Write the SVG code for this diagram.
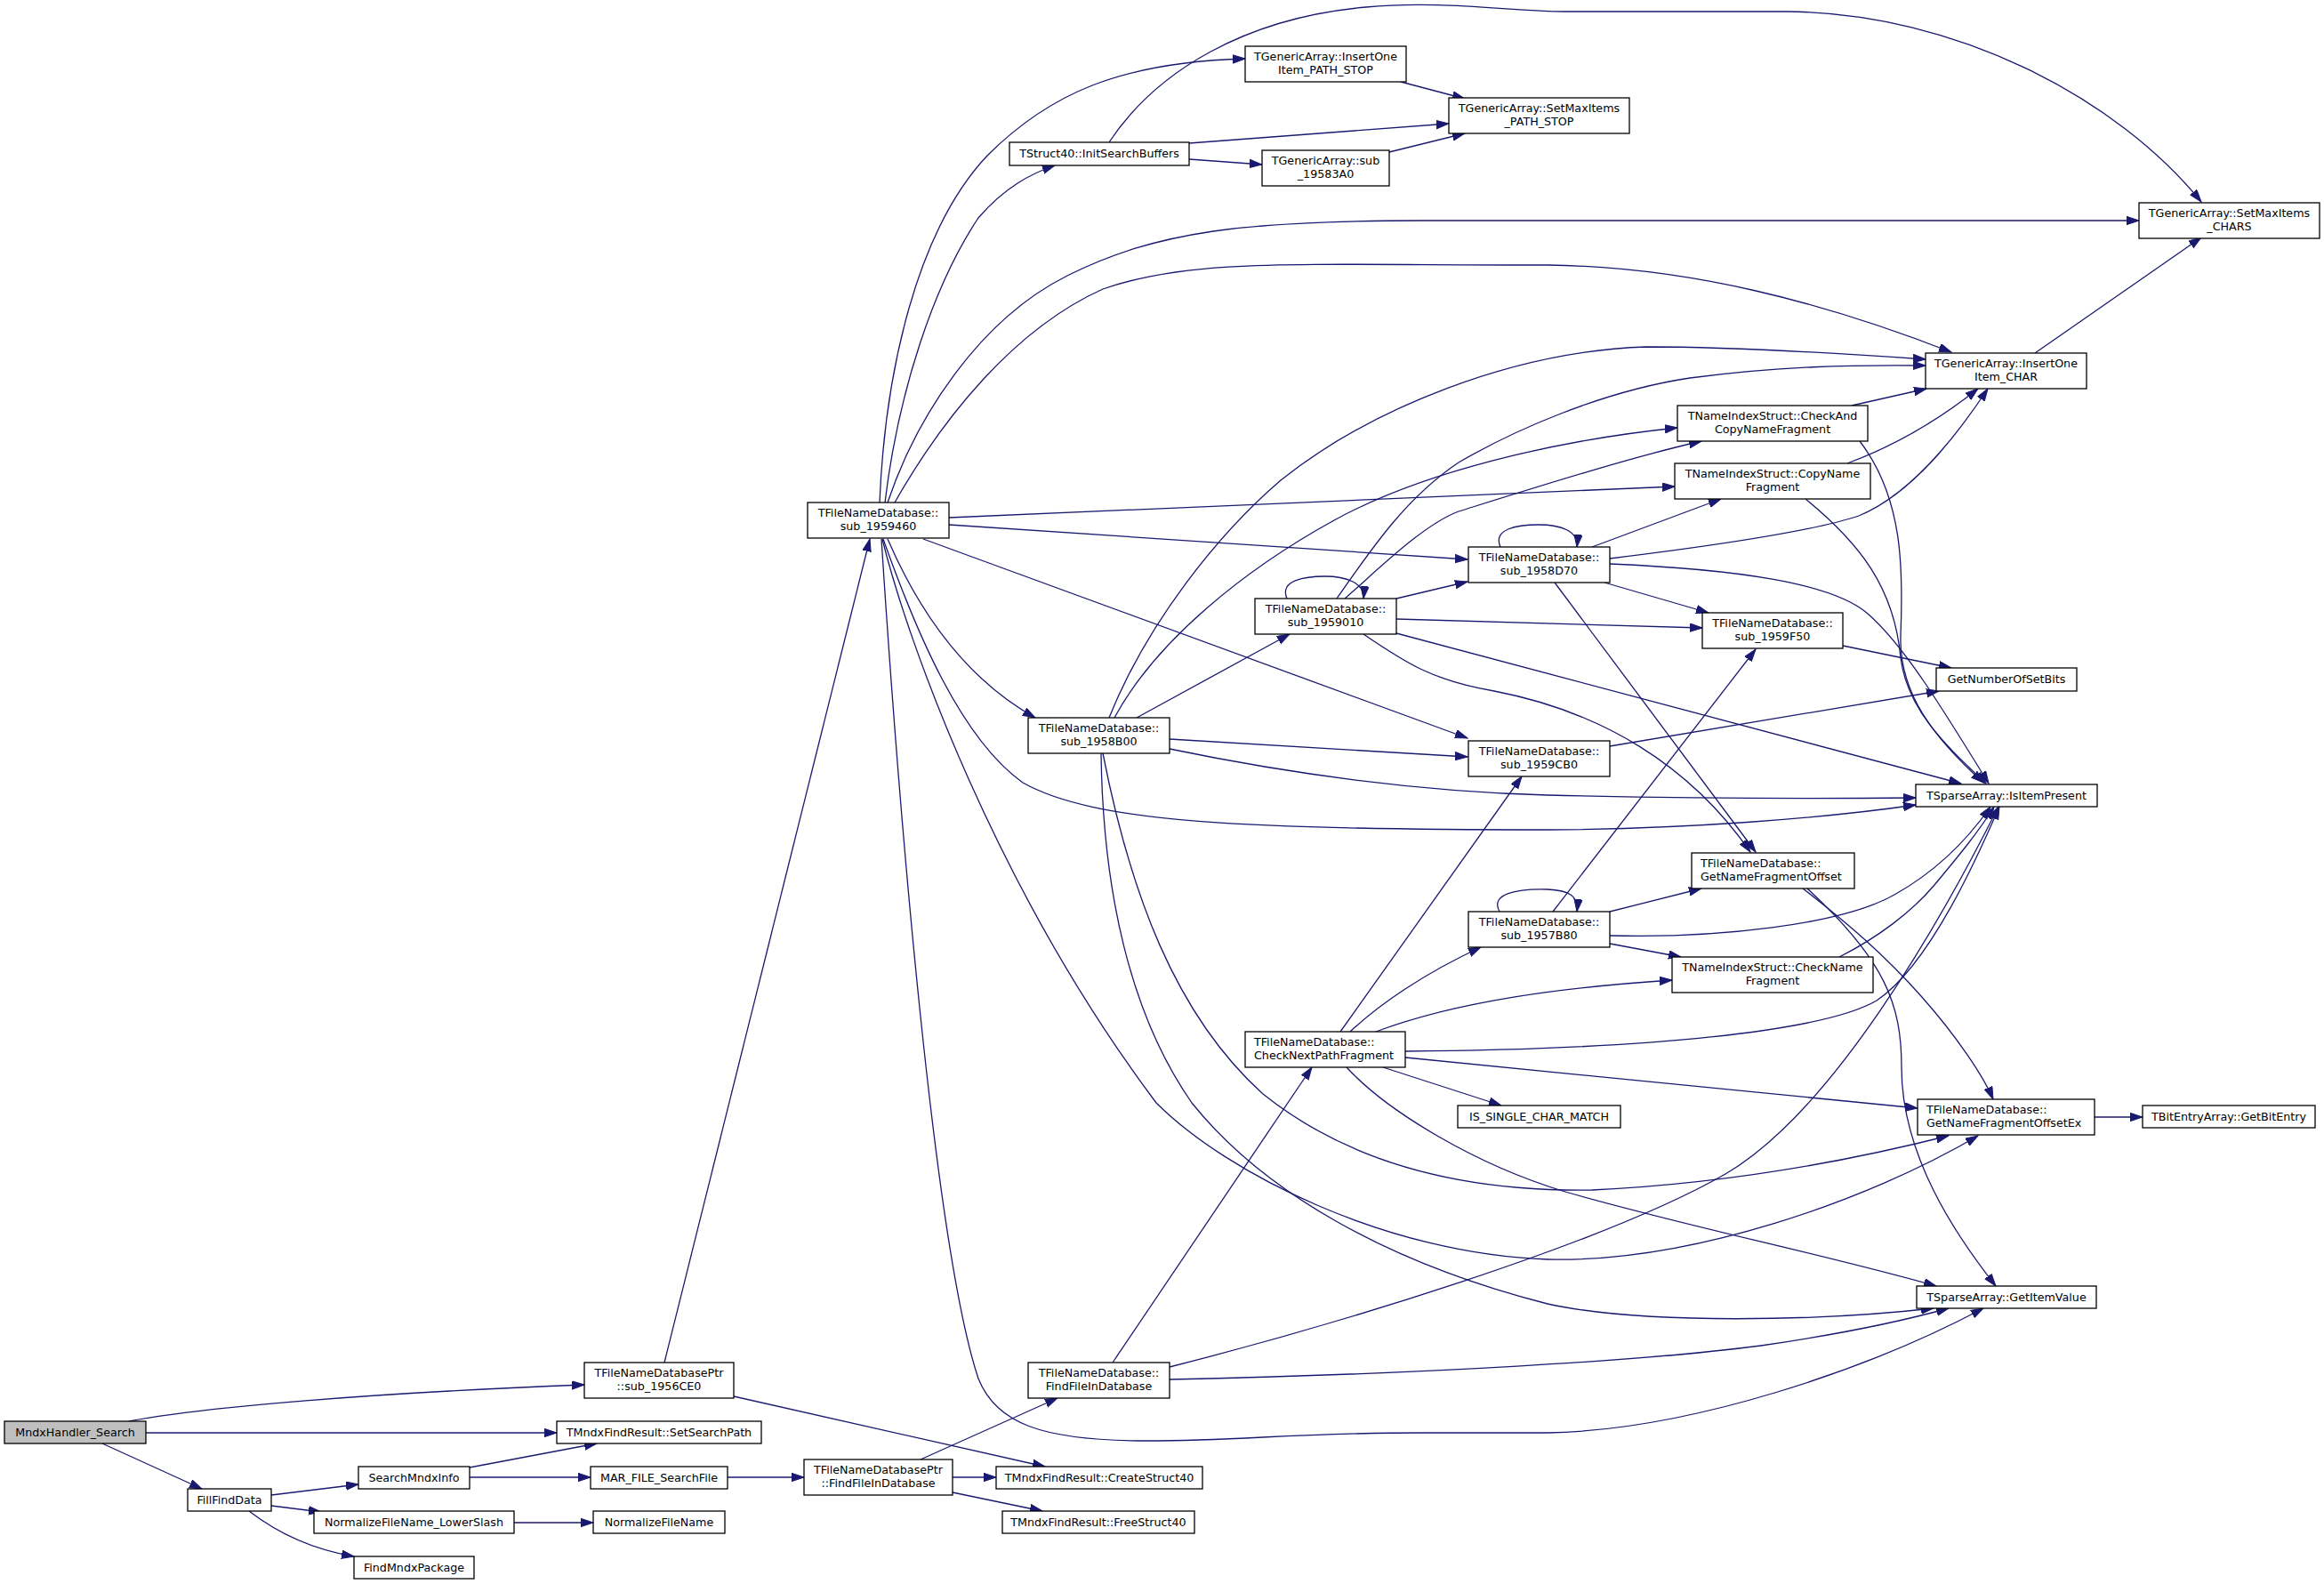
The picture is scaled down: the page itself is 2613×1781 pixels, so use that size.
<svg xmlns="http://www.w3.org/2000/svg" width="2613" height="1781" viewBox="0 0 2613 1781">
<style>
.n rect{fill:#fff;stroke:#000;stroke-width:1.3}
.n.root rect{fill:#bfbfbf}
.n text{font-family:"DejaVu Sans","Liberation Sans",sans-serif;font-size:12.7px;fill:#000;text-anchor:middle}
.n text.l{text-anchor:start}
.e path{fill:none;stroke:#191970;stroke-width:1.3;marker-end:url(#a)}
</style>
<defs>
<marker id="a" markerUnits="userSpaceOnUse" markerWidth="15" markerHeight="11" refX="14" refY="5" orient="auto">
<path d="M0,0.3L14,5L0,9.7z" fill="#191970" stroke="#191970" stroke-width="1"/>
</marker>
</defs>
<rect width="2613" height="1781" fill="#fff"/>
<g id="edges" class="e">
<path d="M145,1598 C230,1582 420,1566 657,1557"/>
<path d="M164,1611 L626,1611"/>
<path d="M115,1623 L227,1674"/>
<path d="M305,1681 L403,1669"/>
<path d="M305,1693 L361,1700"/>
<path d="M280,1699 C310,1722 350,1742 398,1750"/>
<path d="M528,1650 L671,1623"/>
<path d="M528,1661 L664,1661"/>
<path d="M578,1712 L667,1712"/>
<path d="M818,1661 L904,1661"/>
<path d="M747,1532 L978,606"/>
<path d="M825,1570 L1175,1649"/>
<path d="M1071,1661 L1120,1661"/>
<path d="M1071,1678 L1172,1699"/>
<path d="M1035,1641 L1189,1572"/>
<path d="M1251,1532 L1475,1200"/>
<path d="M1315,1537 C1500,1490 1800,1400 1940,1320 C2060,1250 2180,1040 2247,907"/>
<path d="M1315,1551 C1600,1545 1850,1530 1980,1513 C2070,1500 2140,1485 2191,1471"/>
<path d="M1507,1160 L1711,873"/>
<path d="M1518,1160 C1550,1130 1600,1095 1665,1065"/>
<path d="M1547,1160 C1640,1125 1760,1110 1880,1102"/>
<path d="M1580,1182 C1850,1180 2050,1160 2110,1125 C2170,1085 2225,960 2248,907"/>
<path d="M1580,1189 L2156,1246"/>
<path d="M1555,1200 L1688,1243"/>
<path d="M1514,1200 C1560,1250 1660,1310 1760,1340 C1900,1380 2050,1410 2177,1446"/>
<path d="M1686,1025 C1675,1005 1705,999 1740,1000 C1765,1001 1775,1008 1773,1025"/>
<path d="M1746,1025 L1974,730"/>
<path d="M1810,1025 L1913,999"/>
<path d="M1810,1052 C1930,1055 2070,1040 2130,1006 C2180,978 2215,940 2238,907"/>
<path d="M1810,1061 L1890,1076"/>
<path d="M2068,1076 C2110,1055 2150,1025 2175,995 C2200,965 2225,935 2242,907"/>
<path d="M2027,999 C2080,1040 2120,1075 2160,1120 C2200,1165 2230,1210 2241,1236"/>
<path d="M2032,999 C2120,1080 2138,1130 2138,1200 C2138,1300 2200,1390 2244,1446"/>
<path d="M2355,1256 L2409,1256"/>
<path d="M1810,839 L2180,777"/>
<path d="M2072,726 L2194,751"/>
<path d="M1687,615 C1678,595 1705,590 1730,590 C1755,590 1775,597 1773,615"/>
<path d="M1790,615 L1935,561"/>
<path d="M1810,628 C1900,617 2030,600 2090,580 C2150,555 2200,490 2235,437"/>
<path d="M1804,655 L1921,689"/>
<path d="M1810,634 C1950,640 2060,655 2100,690 C2140,725 2180,790 2236,881"/>
<path d="M1748,655 L1974,958"/>
<path d="M1447,673 C1438,652 1468,648 1490,648 C1512,648 1535,655 1533,673"/>
<path d="M1570,673 L1650,654"/>
<path d="M1570,696 L1914,706"/>
<path d="M1570,712 L2205,881"/>
<path d="M1533,713 C1580,745 1610,765 1680,777 C1800,800 1900,860 1968,958"/>
<path d="M1503,673 C1540,620 1580,560 1640,520 C1700,485 1800,440 1900,425 C2000,412 2080,410 2165,411"/>
<path d="M1512,673 C1550,640 1600,590 1640,575 C1720,550 1830,515 1913,496"/>
<path d="M1278,807 L1450,713"/>
<path d="M1315,831 L1650,851"/>
<path d="M1315,842 C1450,870 1600,890 1740,894 C1900,898 2050,898 2154,897"/>
<path d="M1247,807 C1290,700 1370,600 1440,540 C1540,460 1700,395 1851,390 C1950,390 2080,398 2165,404"/>
<path d="M1253,807 C1300,720 1400,640 1500,585 C1600,530 1750,495 1886,481"/>
<path d="M1240,847 C1270,1000 1320,1140 1420,1230 C1520,1310 1650,1340 1790,1338 C1960,1330 2100,1300 2191,1277"/>
<path d="M1238,847 C1240,1000 1270,1140 1340,1240 C1420,1340 1560,1420 1740,1466 C1850,1490 2050,1485 2174,1471"/>
<path d="M2082,456 L2166,437"/>
<path d="M2091,496 C2140,560 2140,640 2137,715 C2135,780 2175,830 2230,880"/>
<path d="M2077,521 C2120,505 2170,480 2224,437"/>
<path d="M2030,561 C2090,610 2130,660 2137,740 C2145,800 2190,840 2233,881"/>
<path d="M2288,397 L2475,267"/>
<path d="M989,565 C995,420 1030,260 1110,175 C1180,105 1260,70 1400,66"/>
<path d="M995,565 C1010,440 1050,320 1100,245 C1130,210 1160,195 1186,186"/>
<path d="M998,565 C1030,470 1100,360 1200,310 C1300,260 1400,248 1600,248 L2405,248"/>
<path d="M1006,565 C1060,470 1140,370 1240,325 C1340,290 1450,298 1740,298 C1900,300 2050,340 2194,396"/>
<path d="M1067,582 L1883,547"/>
<path d="M1067,590 L1650,629"/>
<path d="M998,606 C1030,680 1080,760 1164,807"/>
<path d="M1038,606 L1650,830"/>
<path d="M993,606 C1030,710 1080,830 1150,880 C1230,925 1400,933 1740,933 C1900,932 2050,920 2154,905"/>
<path d="M992,606 C1020,720 1120,1000 1300,1240 C1380,1320 1560,1410 1740,1416 C1900,1420 2100,1350 2224,1277"/>
<path d="M991,606 C1010,900 1050,1400 1100,1550 C1120,1600 1170,1620 1290,1620 C1400,1620 1450,1611 1600,1611 L1740,1611 C1900,1608 2100,1540 2230,1471"/>
<path d="M1247,160 C1300,80 1400,20 1536,8 C1620,0 1700,13 1760,13 L2010,13 C2200,15 2380,110 2475,227"/>
<path d="M1337,161 L1629,139"/>
<path d="M1337,179 L1419,185"/>
<path d="M1575,92 L1647,111"/>
<path d="M1562,171 L1647,150"/>
</g>
<g id="n0" class="n root"><rect x="5" y="1598" width="159" height="25"/><text x="84.5" y="1614.8">MndxHandler_Search</text></g>
<g id="n1" class="n"><rect x="657" y="1532" width="168" height="40"/><text x="741" y="1548">TFileNameDatabasePtr</text><text x="741" y="1563">::sub_1956CE0</text></g>
<g id="n2" class="n"><rect x="626" y="1598" width="230" height="25"/><text x="741" y="1614.8">TMndxFindResult::SetSearchPath</text></g>
<g id="n3" class="n"><rect x="211" y="1674" width="94" height="25"/><text x="258" y="1690.8">FillFindData</text></g>
<g id="n4" class="n"><rect x="403" y="1649" width="125" height="25"/><text x="465.5" y="1665.8">SearchMndxInfo</text></g>
<g id="n5" class="n"><rect x="353" y="1699" width="225" height="25"/><text x="465.5" y="1715.8">NormalizeFileName_LowerSlash</text></g>
<g id="n6" class="n"><rect x="398" y="1750" width="135" height="25"/><text x="465.5" y="1766.8">FindMndxPackage</text></g>
<g id="n7" class="n"><rect x="664" y="1649" width="154" height="25"/><text x="741" y="1665.8">MAR_FILE_SearchFile</text></g>
<g id="n8" class="n"><rect x="667" y="1699" width="148" height="25"/><text x="741" y="1715.8">NormalizeFileName</text></g>
<g id="n9" class="n"><rect x="904" y="1641" width="167" height="40"/><text x="987.5" y="1657">TFileNameDatabasePtr</text><text x="987.5" y="1672">::FindFileInDatabase</text></g>
<g id="n10" class="n"><rect x="1120" y="1649" width="232" height="25"/><text x="1236" y="1665.8">TMndxFindResult::CreateStruct40</text></g>
<g id="n11" class="n"><rect x="1127" y="1699" width="216" height="25"/><text x="1235" y="1715.8">TMndxFindResult::FreeStruct40</text></g>
<g id="n12" class="n"><rect x="1156" y="1532" width="159" height="40"/><text x="1235.5" y="1548">TFileNameDatabase::</text><text x="1235.5" y="1563">FindFileInDatabase</text></g>
<g id="n13" class="n"><rect x="1400" y="1160" width="180" height="40"/><text class="l" x="1410" y="1176">TFileNameDatabase::</text><text class="l" x="1410" y="1191">CheckNextPathFragment</text></g>
<g id="n14" class="n"><rect x="1639" y="1243" width="183" height="25"/><text x="1730.5" y="1259.8">IS_SINGLE_CHAR_MATCH</text></g>
<g id="n15" class="n"><rect x="1651" y="1025" width="159" height="40"/><text x="1730.5" y="1041">TFileNameDatabase::</text><text x="1730.5" y="1056">sub_1957B80</text></g>
<g id="n16" class="n"><rect x="1880" y="1076" width="226" height="40"/><text x="1993" y="1092">TNameIndexStruct::CheckName</text><text x="1993" y="1107">Fragment</text></g>
<g id="n17" class="n"><rect x="1902" y="959" width="183" height="40"/><text class="l" x="1912" y="975">TFileNameDatabase::</text><text class="l" x="1912" y="990">GetNameFragmentOffset</text></g>
<g id="n18" class="n"><rect x="2156" y="1236" width="199" height="40"/><text class="l" x="2166" y="1252">TFileNameDatabase::</text><text class="l" x="2166" y="1267">GetNameFragmentOffsetEx</text></g>
<g id="n19" class="n"><rect x="2409" y="1243" width="194" height="25"/><text x="2506" y="1259.8">TBitEntryArray::GetBitEntry</text></g>
<g id="n20" class="n"><rect x="2155" y="1446" width="202" height="25"/><text x="2256" y="1462.8">TSparseArray::GetItemValue</text></g>
<g id="n21" class="n"><rect x="2154" y="882" width="204" height="25"/><text x="2256" y="898.8">TSparseArray::IsItemPresent</text></g>
<g id="n22" class="n"><rect x="2177" y="751" width="158" height="26"/><text x="2256" y="768.3">GetNumberOfSetBits</text></g>
<g id="n23" class="n"><rect x="1914" y="689" width="158" height="40"/><text x="1993" y="705">TFileNameDatabase::</text><text x="1993" y="720">sub_1959F50</text></g>
<g id="n24" class="n"><rect x="1651" y="833" width="159" height="40"/><text x="1730.5" y="849">TFileNameDatabase::</text><text x="1730.5" y="864">sub_1959CB0</text></g>
<g id="n25" class="n"><rect x="1651" y="615" width="159" height="40"/><text x="1730.5" y="631">TFileNameDatabase::</text><text x="1730.5" y="646">sub_1958D70</text></g>
<g id="n26" class="n"><rect x="1411" y="673" width="159" height="40"/><text x="1490.5" y="689">TFileNameDatabase::</text><text x="1490.5" y="704">sub_1959010</text></g>
<g id="n27" class="n"><rect x="1156" y="807" width="159" height="40"/><text x="1235.5" y="823">TFileNameDatabase::</text><text x="1235.5" y="838">sub_1958B00</text></g>
<g id="n28" class="n"><rect x="908" y="565" width="159" height="40"/><text x="987.5" y="581">TFileNameDatabase::</text><text x="987.5" y="596">sub_1959460</text></g>
<g id="n29" class="n"><rect x="1886" y="456" width="214" height="40"/><text x="1993" y="472">TNameIndexStruct::CheckAnd</text><text x="1993" y="487">CopyNameFragment</text></g>
<g id="n30" class="n"><rect x="1883" y="521" width="220" height="40"/><text x="1993" y="537">TNameIndexStruct::CopyName</text><text x="1993" y="552">Fragment</text></g>
<g id="n31" class="n"><rect x="2165" y="397" width="181" height="40"/><text x="2255.5" y="413">TGenericArray::InsertOne</text><text x="2255.5" y="428">Item_CHAR</text></g>
<g id="n32" class="n"><rect x="2405" y="228" width="203" height="40"/><text x="2506.5" y="244">TGenericArray::SetMaxItems</text><text x="2506.5" y="259">_CHARS</text></g>
<g id="n33" class="n"><rect x="1135" y="160" width="202" height="26"/><text x="1236" y="177.3">TStruct40::InitSearchBuffers</text></g>
<g id="n34" class="n"><rect x="1400" y="52" width="181" height="40"/><text x="1490.5" y="68">TGenericArray::InsertOne</text><text x="1490.5" y="83">Item_PATH_STOP</text></g>
<g id="n35" class="n"><rect x="1629" y="110" width="203" height="40"/><text x="1730.5" y="126">TGenericArray::SetMaxItems</text><text x="1730.5" y="141">_PATH_STOP</text></g>
<g id="n36" class="n"><rect x="1419" y="169" width="143" height="40"/><text x="1490.5" y="185">TGenericArray::sub</text><text x="1490.5" y="200">_19583A0</text></g>
</svg>
